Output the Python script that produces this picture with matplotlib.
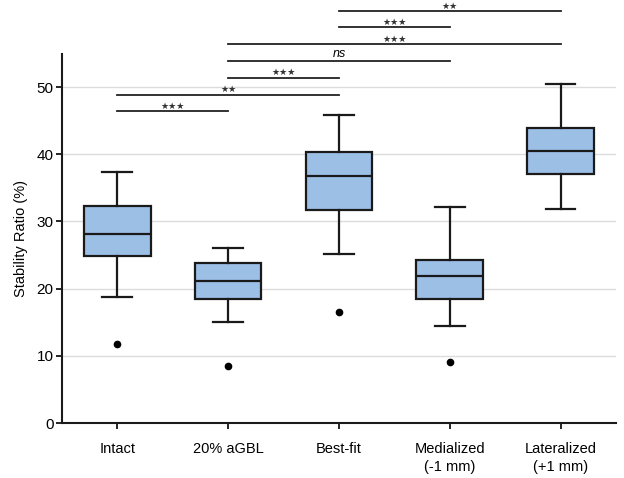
import matplotlib
matplotlib.use("Agg")
import matplotlib.pyplot as plt

plt.rcParams['font.family'] = ['Liberation Sans', 'DejaVu Sans']

# values
groups = ["Intact", "20% aGBL", "Best-fit", "Medialized\n(-1 mm)", "Lateralized\n(+1 mm)"]
whislo = [18.7, 15.0, 25.1, 14.4, 31.9]
q1 = [24.85, 18.45, 31.7, 18.5, 37.05]
med = [28.1, 21.1, 36.7, 21.9, 40.5]
q3 = [32.3, 23.8, 40.3, 24.3, 43.9]
whishi = [37.3, 26.1, 45.9, 32.1, 50.4]
fliers = [[11.8], [8.5], [16.6], [9.1], []]

# significance brackets: (from group, to group, label, height)
comparisons = [
    (0, 1, "***", 46.4),
    (0, 2, "**", 48.9),
    (1, 2, "***", 51.4),
    (1, 3, "ns", 53.9),
    (1, 4, "***", 56.4),
    (2, 3, "***", 58.9),
    (2, 4, "**", 61.3),
]

stats = []
for i in range(len(groups)):
    stats.append(dict(whislo=whislo[i], q1=q1[i], med=med[i], q3=q3[i],
                      whishi=whishi[i], fliers=fliers[i]))

fig = plt.figure(figsize=(6.24, 4.78), dpi=100)
ax = fig.add_axes([0.0994, 0.115, 0.8876, 0.773])

ax.bxp(stats, positions=range(len(groups)), widths=0.6, capwidths=0.27,
       patch_artist=True,
       boxprops=dict(facecolor="#9cbfe6", edgecolor="#1a1a1a", linewidth=1.6),
       medianprops=dict(color="#1a1a1a", linewidth=1.6),
       whiskerprops=dict(color="#1a1a1a", linewidth=1.6),
       capprops=dict(color="#1a1a1a", linewidth=1.6),
       flierprops=dict(marker="o", markerfacecolor="black", markeredgecolor="black",
                       markersize=4.5))

ax.set_xlim(-0.5, 4.5)
ax.set_ylim(0, 55)
ax.set_yticks([0, 10, 20, 30, 40, 50])
ax.yaxis.grid(True, color="#dcdcdc", linewidth=1)
ax.set_axisbelow(True)
ax.set_xticks(range(len(groups)))
ax.set_xticklabels(groups, fontsize=10.5, linespacing=1.3)
ax.tick_params(axis="y", labelsize=11, length=4, width=1.2, pad=2)
ax.tick_params(axis="x", length=4, width=1.2, pad=10)
ax.set_ylabel("Stability Ratio (%)", fontsize=10.5, labelpad=6)

for side in ["top", "right"]:
    ax.spines[side].set_visible(False)
for side in ["left", "bottom"]:
    ax.spines[side].set_linewidth(1.5)
    ax.spines[side].set_color("#1a1a1a")

for a, b, label, h in comparisons:
    ax.plot([a, b], [h, h], color="#222222", linewidth=1.3, clip_on=False)
    if label == "ns":
        ax.text((a + b) / 2, h + 0.2, label, ha="center", va="bottom",
                fontsize=9, style="italic", clip_on=False)
    else:
        stars = "\u2605" * len(label)
        ax.text((a + b) / 2, h + 0.1, stars, ha="center", va="bottom",
                fontsize=6.5, family="DejaVu Sans", color="#333333", clip_on=False)

fig.savefig("out.png", dpi=100)
